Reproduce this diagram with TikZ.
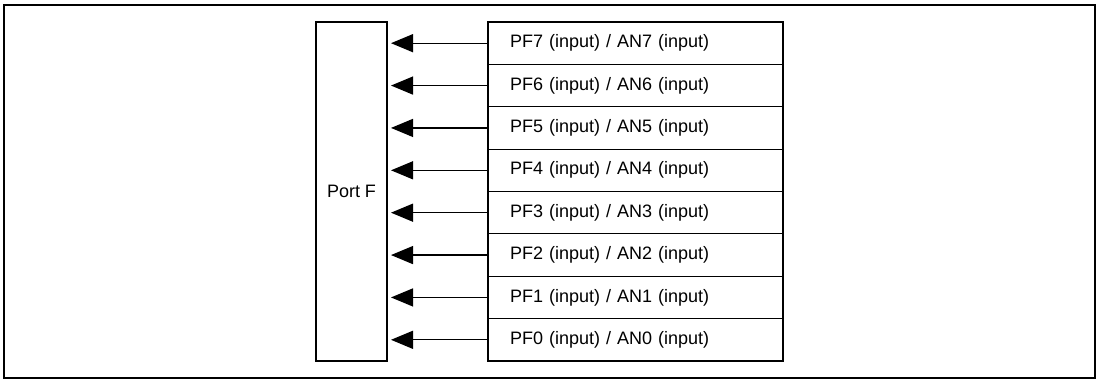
\documentclass[tikz,border=0pt]{standalone}
\usepackage{fontspec}
\setmainfont{Liberation Sans}
\usetikzlibrary{arrows.meta}
\begin{document}
\begin{tikzpicture}[x=1pt,y=-1pt,
  frame/.style={draw=black,line width=2pt},
  portbox/.style={draw=black,line width=2pt,minimum width=71pt,minimum height=339pt,inner sep=0pt,font=\fontsize{18}{22}\selectfont},
  rowbox/.style={draw=black,line width=1.2pt,minimum width=295pt,minimum height=42.375pt,text width=251pt,align=left,inner xsep=22pt,inner ysep=0pt,font=\fontsize{18}{22}\selectfont},
  outerbox/.style={draw=black,line width=2pt,minimum width=295pt,minimum height=339pt,inner sep=0pt},
  sig/.style={line width=1.3pt,-{Triangle[length=22pt,width=18pt]},shorten >=3pt}]
\useasboundingbox (0,0) rectangle (1100,380);
\draw[frame] (4,5) rectangle (1095,378);
\node[portbox] (port) at (351.5,191.5) {Port F};
\foreach \i in {7,...,0}{
  \pgfmathsetmacro{\yy}{22+(7-\i)*42.375+21.1875}
  \node[rowbox] (r\i) at (635.5,\yy) {PF\i{} (input) / AN\i{} (input)};
  \draw[sig] (r\i.west) -- (port.east |- r\i.west);
}
\node[outerbox] (rbox) at (635.5,191.5) {};
\end{tikzpicture}
\end{document}
